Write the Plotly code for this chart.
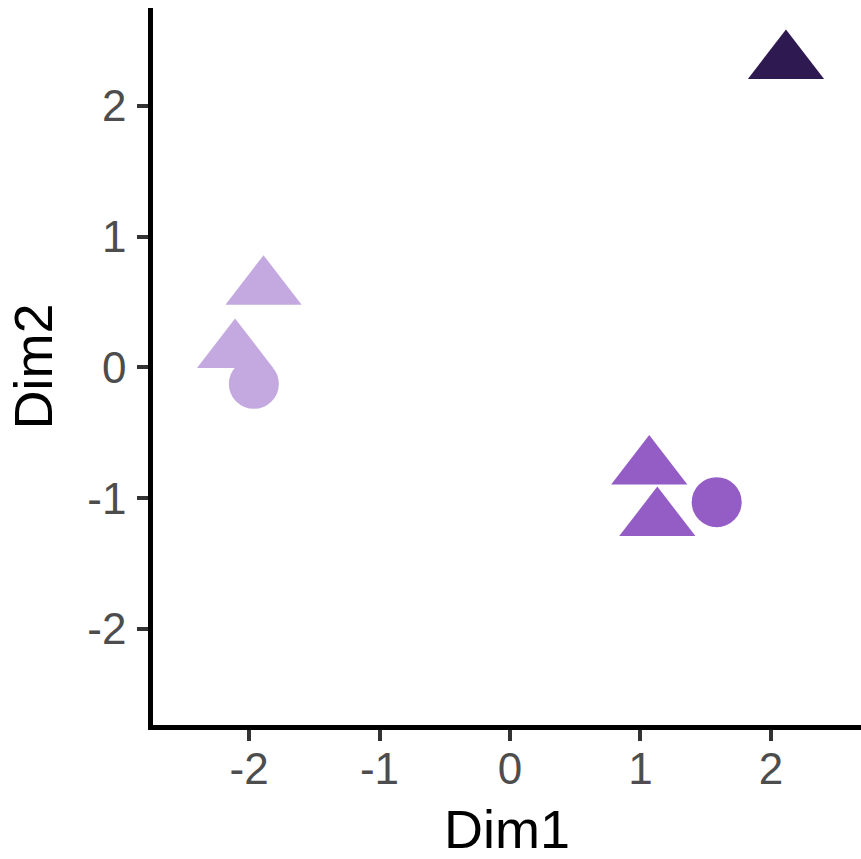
import plotly.graph_objects as go

# Data
dim1 = [2.115, -1.889, -2.107, -1.963, 1.067, 1.129, 1.584]
dim2 = [2.333, 0.606, 0.123, -0.125, -0.769, -1.163, -1.030]
group = ["A", "B", "B", "B", "C", "C", "C"]
shape = ["triangle", "triangle", "triangle", "circle", "triangle", "triangle", "circle"]

group_colors = {"A": "#2E1A50", "B": "#C4A9E0", "C": "#945DC6"}
shape_symbols = {"triangle": "triangle-up", "circle": "circle"}
shape_sizes = {"triangle": 66, "circle": 50}

fig = go.Figure()
for g in ["B", "C", "A"]:
    for s in ["circle", "triangle"]:
        xs = [x for x, gg, ss in zip(dim1, group, shape) if gg == g and ss == s]
        ys = [y for y, gg, ss in zip(dim2, group, shape) if gg == g and ss == s]
        if not xs:
            continue
        fig.add_trace(go.Scatter(
            x=xs, y=ys, mode="markers",
            marker=dict(symbol=shape_symbols[s], size=shape_sizes[s],
                        color=group_colors[g], line=dict(width=0)),
            showlegend=False, hoverinfo="skip"))

font_family = "Liberation Sans, Arial, sans-serif"
axis_common = dict(
    showgrid=False, zeroline=False, showline=True, linecolor="black", linewidth=4.5,
    ticks="outside", ticklen=11, tickwidth=4, tickcolor="#333333",
    tickfont=dict(family=font_family, size=44, color="#4D4D4D"),
    tickvals=[-2, -1, 0, 1, 2], ticktext=["-2", "-1", "0", "1", "2"],
)

fig.update_xaxes(range=[-2.736, 2.690], ticklabelstandoff=-10,
                 title=dict(text="Dim1", font=dict(family=font_family, size=54, color="black"), standoff=20),
                 **axis_common)
fig.update_yaxes(range=[-2.734, 2.749], ticklabelstandoff=2,
                 title=dict(text="Dim2", font=dict(family=font_family, size=54, color="black"), standoff=19),
                 **axis_common)

fig.update_layout(
    width=861, height=859,
    margin=dict(l=153, r=0, t=8, b=134),
    plot_bgcolor="white", paper_bgcolor="white",
)

fig.write_html(
    "out.html",
    config={"displayModeBar": False},
    post_script="document.body.style.margin='0';document.body.style.overflow='hidden';",
)
